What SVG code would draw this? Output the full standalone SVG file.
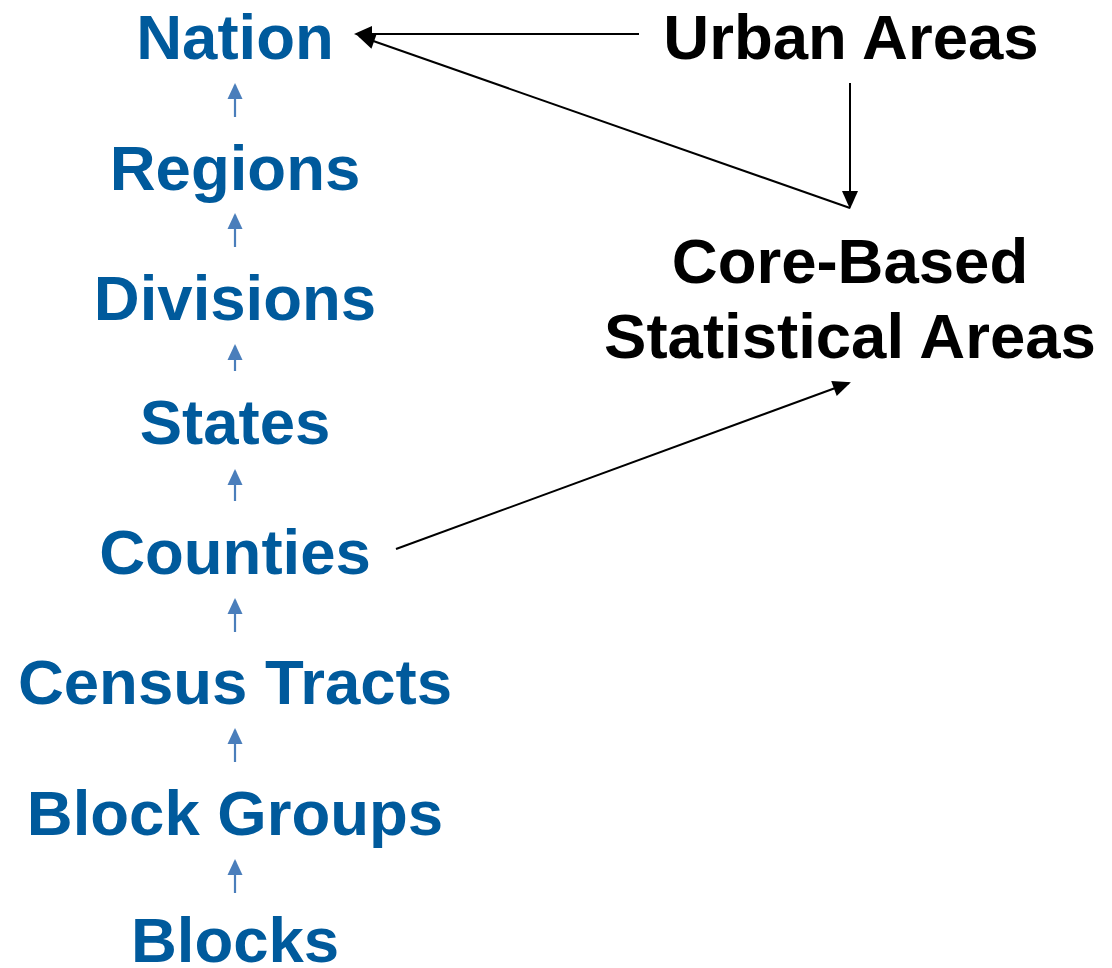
<svg xmlns="http://www.w3.org/2000/svg" width="1112" height="968" viewBox="0 0 1112 968">
<style>
text{font-family:"Liberation Sans",Arial,sans-serif;font-weight:bold;font-size:63.5px;text-anchor:middle}
.b{fill:#005A9C}
.k{fill:#000}
.bl{stroke:#4A7EBB;stroke-width:2.2;fill:none;marker-end:url(#ab)}
.kl{stroke:#000;stroke-width:2;fill:none;marker-end:url(#ak)}
</style>
<defs>
<marker id="ab" markerUnits="userSpaceOnUse" markerWidth="17" markerHeight="15" refX="14" refY="7.5" orient="auto" overflow="visible">
<path d="M0,0 L16,7.5 L0,15 z" fill="#4A7EBB"/>
</marker>
<marker id="ak" markerUnits="userSpaceOnUse" markerWidth="18" markerHeight="16" refX="16" refY="8" orient="auto" overflow="visible">
<path d="M0,0 L18,8 L0,16 z" fill="#000"/>
</marker>
</defs>
<g id="nation"><text class="b" x="235" y="59">Nation</text></g>
<g id="regions"><text class="b" x="235" y="190">Regions</text></g>
<g id="divisions"><text class="b" x="235" y="320">Divisions</text></g>
<g id="states"><text class="b" x="235" y="444">States</text></g>
<g id="counties"><text class="b" x="235" y="574">Counties</text></g>
<g id="census-tracts"><text class="b" x="235" y="704">Census Tracts</text></g>
<g id="block-groups"><text class="b" x="235" y="835">Block Groups</text></g>
<g id="blocks"><text class="b" x="235" y="962">Blocks</text></g>
<g id="urban-areas"><text class="k" x="851" y="59">Urban Areas</text></g>
<g id="cbsa"><text class="k" x="850" y="283">Core-Based</text><text class="k" x="850" y="358">Statistical Areas</text></g>
<g id="connectors">
<line class="bl" x1="235" y1="117" x2="235" y2="85"/>
<line class="bl" x1="235" y1="247" x2="235" y2="215"/>
<line class="bl" x1="235" y1="371" x2="235" y2="346"/>
<line class="bl" x1="235" y1="501" x2="235" y2="471"/>
<line class="bl" x1="235" y1="632" x2="235" y2="600"/>
<line class="bl" x1="235" y1="762" x2="235" y2="730"/>
<line class="bl" x1="235" y1="893" x2="235" y2="861"/>
<line class="kl" x1="639" y1="34" x2="356" y2="34"/>
<line class="kl" x1="850" y1="83" x2="850" y2="207"/>
<line class="kl" x1="850" y1="208" x2="359" y2="36"/>
<line class="kl" x1="396" y1="549" x2="849" y2="383"/>
</g>
</svg>
